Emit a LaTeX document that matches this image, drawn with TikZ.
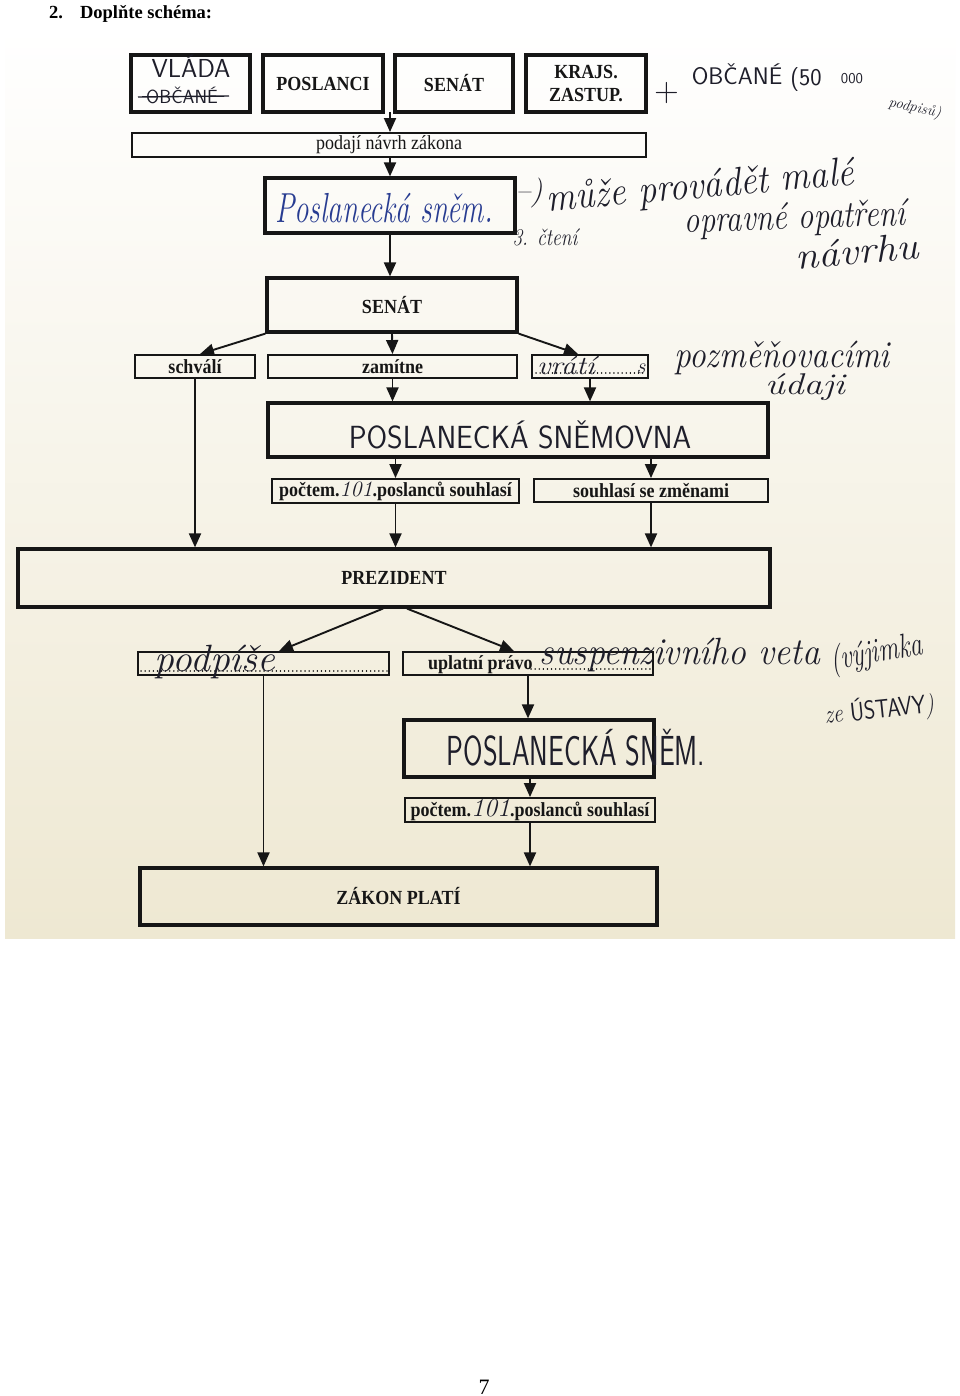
\documentclass[tikz,border=0pt]{standalone}
\usepackage{graphicx}
\usepackage{fontspec}
\usetikzlibrary{arrows.meta,calc}
\newfontfamily\prt[FakeStretch=0.9]{Liberation Serif}
\newfontfamily\ttlfont{Liberation Serif}
\newcommand\fsz[1]{\fontsize{#1}{#1}\selectfont}
\newcommand\hand{\normalfont\itshape}
\newcommand\caps{\normalfont\sffamily}
\newcommand\hws[3]{\scalebox{#1}[1]{\fsz{#2}#3}}
\definecolor{paper}{RGB}{238,232,210}
\definecolor{ink}{RGB}{30,30,42}
\definecolor{blueink}{RGB}{40,60,145}
\definecolor{printblk}{RGB}{22,22,22}
\begin{document}
\begin{tikzpicture}[x=1pt,y=-1pt,
  bbox/.style={draw=printblk, line width=3.2pt, inner sep=0pt, text=printblk, font=\prt\bfseries\fsz{20}},
  sbox/.style={draw=printblk, line width=1.9pt, inner sep=0pt, text=printblk, font=\prt\fsz{20}},
  arr/.style={draw=printblk, line width=1.9pt, -{Triangle[length=14pt,width=12pt]}},
  hw/.style={text=ink, inner sep=0pt, anchor=base, font=\hand},
  hc/.style={text=ink, inner sep=0pt, anchor=base, font=\caps},
  dotline/.style={draw=printblk, line width=1.4pt, line cap=round, dash pattern=on 0.1pt off 4pt},
]
\useasboundingbox (0,0) rectangle (960,1396);
\fill[white] (0,0) rectangle (960,1396);
\shade[top color=white, bottom color=paper] (5,28) rectangle (955,938);

% title and page number
\node[anchor=base west, inner sep=0pt, font=\ttlfont\bfseries\fsz{18.5}] (title) at (49,19) {2.\hspace{17pt}Doplňte schéma:};
\node[anchor=base, inner sep=0pt, font=\ttlfont\fsz{22}] (pg) at (484,1394) {7};

% row 1
\node[bbox, minimum width=119pt, minimum height=57pt] (vlada) at (190.5,83.5) {};
\node[bbox, minimum width=120pt, minimum height=57pt] (poslanci) at (323,83.5) {POSLANCI};
\node[bbox, minimum width=118pt, minimum height=57pt] (senat1) at (454,83.5) {SENÁT};
\node[bbox, minimum width=120pt, minimum height=57pt, align=center, font=\prt\bfseries\fontsize{20}{23}\selectfont] (krajs) at (586,83.5) {KRAJS.\\ZASTUP.};

\node[sbox, minimum width=514pt, minimum height=24pt] (podaji) at (389,145) {podají návrh zákona};
\node[bbox, minimum width=250pt, minimum height=55pt] (psnem1) at (390,205.5) {};
\node[bbox, minimum width=250pt, minimum height=54pt] (senat) at (392,305) {SENÁT};

\node[sbox, minimum width=120pt, minimum height=23pt, font=\prt\bfseries\fsz{20}] (schvali) at (195,366.5) {schválí};
\node[sbox, minimum width=249pt, minimum height=23pt, font=\prt\bfseries\fsz{20}] (zamitne) at (392.5,366.5) {zamítne};
\node[sbox, minimum width=116pt, minimum height=23pt] (vrati) at (590,366.5) {};

\node[bbox, minimum width=500pt, minimum height=54pt] (psnemovna) at (518,430) {};
\node[sbox, minimum width=247pt, minimum height=24pt, font=\prt\bfseries\fsz{20}] (pocet1) at (395.5,491)
  {počtem.\textcolor{ink}{\hand\fsz{22}101}.poslanců souhlasí};
\node[sbox, minimum width=234pt, minimum height=23pt, font=\prt\bfseries\fsz{20}] (zmenami) at (651,490.5) {souhlasí se změnami};

\node[bbox, minimum width=752pt, minimum height=58pt] (prezident) at (394,578) {PREZIDENT};

\node[sbox, minimum width=251pt, minimum height=23pt] (podpise) at (263.5,663.5) {};
\node[sbox, minimum width=250pt, minimum height=23pt] (uplatni) at (528,663.5) {};
\node[bbox, minimum width=250pt, minimum height=57pt] (psnem2) at (529,748.5) {};
\node[sbox, minimum width=250pt, minimum height=24pt, font=\prt\bfseries\fsz{20}] (pocet2) at (530,810)
  {počtem.\textcolor{ink}{\hand\fsz{26}101}.poslanců souhlasí};
\node[bbox, minimum width=517pt, minimum height=57pt] (zakon) at (398.5,896.5) {ZÁKON PLATÍ};

% printed text and leader dots inside boxes
\node[anchor=base west, inner sep=0pt, text=printblk, font=\prt\bfseries\fsz{20}] (uplatnitxt) at (428,669) {uplatní právo};
\draw[dotline] (531,669) -- (650,669);
\draw[dotline] (141,671) -- (387,671);
\draw[dotline] (536,373) -- (644,373);

% connectors
\coordinate (r1) at (390,112);
\draw[arr] (r1) -- (podaji.north -| r1);
\draw[arr] (podaji.south -| psnem1.north) -- (psnem1.north);
\draw[arr] (psnem1.south) -- (psnem1.south |- senat.north);
\draw[arr] (senat.south west) -- ([xshift=5pt]schvali.north);
\draw[arr] (senat.south) -- (zamitne.north);
\draw[arr] (senat.south east) -- ([xshift=-12pt]vrati.north);
\draw[arr] (zamitne.south) -- (zamitne.south |- psnemovna.north);
\draw[arr] (vrati.south) -- (vrati.south |- psnemovna.north);
\draw[arr] (pocet1.north |- psnemovna.south) -- (pocet1.north);
\draw[arr] (zmenami.north |- psnemovna.south) -- (zmenami.north);
\draw[arr] (schvali.south) -- (schvali.south |- prezident.north);
\draw[arr] (pocet1.south) -- (pocet1.south |- prezident.north);
\draw[arr] (zmenami.south) -- (zmenami.south |- prezident.north);
\draw[arr] ([xshift=-11pt]prezident.south) -- ([xshift=15.5pt]podpise.north);
\draw[arr] ([xshift=13pt]prezident.south) -- ([xshift=-14pt]uplatni.north);
\draw[arr] (podpise.south) -- (podpise.south |- zakon.north);
\draw[arr] (uplatni.south) -- (uplatni.south |- psnem2.north);
\draw[arr] (psnem2.south -| pocet2.north) -- (pocet2.north);
\draw[arr] (pocet2.south) -- (pocet2.south |- zakon.north);

% handwriting
\node[hc] (vladatxt) at (191,78) {\hws{1}{26}{VLÁDA}};
\node[hc] (obcane) at (182,104) {\hws{1}{19}{OBČANÉ}};
\draw[ink, line width=1.4pt] (138,97) -- (229,96);

\node[hc] (plus) at (667,102) {\hws{1}{34}{+}};
\node[hc] (obcane2) at (737,85) {\hws{1}{24}{OBČANÉ}};
\node[hc] (padesat) at (806,86) {\hws{1}{24}{(50}};
\node[hc] (tisic) at (852,84) {\hws{1}{15}{000}};
\node[hw, rotate=-12] (podpisu) at (914,112) {\hws{1}{15}{podpisů)}};

\node[hw, text=blueink] (psnem1txt) at (384,223) {\hws{0.69}{42}{Poslanecká sněm.}};

\node[hw] (sipka) at (529,201) {\hws{1}{30}{–)}};
\node[hw, rotate=5] (muze) at (701,198) {\hws{0.91}{40}{může provádět malé}};
\node[hw, rotate=2] (opravne) at (795,229) {\hws{0.82}{38}{opravné opatření}};
\node[hw, rotate=5] (navrhu) at (858,264) {\hws{1.1}{38}{návrhu}};
\node[hw] (cteni) at (545,246) {\hws{0.81}{24}{3. čtení}};

\node[hw] (vratitxt) at (566,374) {\hws{1.15}{26}{vrátí}};
\node[hw] (vratis) at (641,373) {\hws{1}{22}{s}};
\node[hw] (pozmen) at (782,367) {\hws{0.88}{38}{pozměňovacími}};
\node[hw] (udaji) at (805,394) {\hws{1.25}{30}{údaji}};

\node[hc] (psnemovnatxt) at (520,448) {\hws{0.93}{32}{POSLANECKÁ SNĚMOVNA}};

\node[hw] (podpisetxt) at (215,671) {\hws{1.04}{38}{podpíše}};
\node[hw] (suspenz) at (680,664) {\hws{0.94}{38}{suspenzivního veta}};
\node[hw, rotate=10] (vyjimka) at (878,662) {\hws{0.74}{34}{(výjimka}};
\node[hw, rotate=6] (ustavy) at (880,718) {\hws{0.83}{26}{ze {\caps ÚSTAVY})}};

\node[hc] (psnem2txt) at (576,765) {\hws{0.67}{42}{POSLANECKÁ SNĚM.}};
\end{tikzpicture}
\end{document}
